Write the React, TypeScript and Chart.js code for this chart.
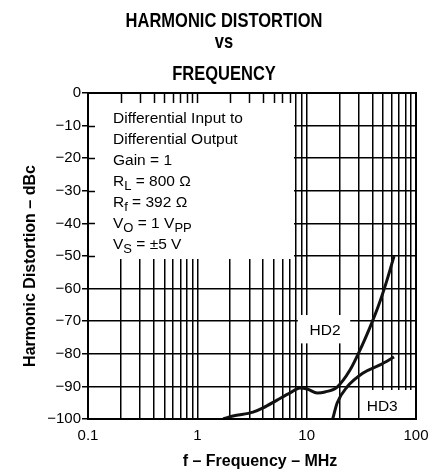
import React, { useEffect, useRef } from 'react';
import { Chart, registerables } from 'chart.js';
Chart.register(...registerables);

const TITLE_LINES = ['HARMONIC DISTORTION', 'vs', 'FREQUENCY'];
const X_TITLE = 'f – Frequency – MHz';
const Y_TITLE = 'Harmonic Distortion – dBc';
const X_MAJOR_TICKS = [0.1, 1, 10, 100];
const X_GRID_VALUES = [
  0.1, 0.2, 0.3, 0.4, 0.5, 0.6, 0.7, 0.8, 0.9,
  1, 2, 3, 4, 5, 6, 7, 8, 9,
  10, 20, 30, 40, 50, 60, 70, 80, 90, 100,
];
const Y_TICK_VALUES = [-100, -90, -80, -70, -60, -50, -40, -30, -20, -10, 0];

const HD2_FREQ = [1.72, 2.12, 3.23, 3.99, 5.36, 7.05, 8.7, 10.1, 12.5, 14.7, 19, 24.9, 30.8, 38, 45, 54.3, 63];
const HD2_DBC = [-100, -99.1, -97.9, -96.6, -94.2, -92.0, -90.5, -90.8, -92, -91.7, -90.2, -85, -78.8, -71.8, -65.6, -57.4, -50];
const HD3_FREQ = [17.3, 19, 23.4, 32.8, 46.9, 63];
const HD3_DBC = [-100, -95.1, -90.2, -85.9, -83.4, -81];

const SERIES_LABELS = ['HD2', 'HD3'];

// [text, isSubscript]
const NOTE_LINES: Array<Array<[string, boolean]>> = [
  [['Differential Input to', false]],
  [['Differential Output', false]],
  [['Gain = 1', false]],
  [['R', false], ['L', true], [' = 800 Ω', false]],
  [['R', false], ['f', true], [' = 392 Ω', false]],
  [['V', false], ['O', true], [' = 1 V', false], ['PP', true]],
  [['V', false], ['S', true], [' = ±5 V', false]],
];

const FONT = '"Liberation Sans", Arial, Helvetica, sans-serif';
const GRID_W = 1.5;

const decor = {
  id: 'decor',
  beforeDatasetsDraw(chart: any) {
    const { ctx, chartArea: ca, scales } = chart;
    const x = scales.x;
    const y = scales.y;
    ctx.save();
    const L = Math.round(ca.left);
    const T = Math.round(ca.top);
    // note box
    const bx0 = L + 1;
    const bx1 = Math.round(x.getPixelForValue(7.7));
    const by0 = T + 1;
    const by1 = Math.round(y.getPixelForValue(-50.9));
    ctx.fillStyle = '#fff';
    ctx.fillRect(bx0, by0, bx1 - bx0, by1 - by0);
    ctx.strokeStyle = '#000';
    ctx.lineWidth = GRID_W;
    ctx.setLineDash([]);
    // stubs on top edge
    for (const v of X_GRID_VALUES) {
      const px = Math.round(x.getPixelForValue(v)) + 0.5;
      if (px > bx0 + 2 && px < bx1) {
        ctx.beginPath();
        ctx.moveTo(px, T);
        ctx.lineTo(px, T + 10);
        ctx.stroke();
      }
    }
    // stubs on left edge
    for (const v of Y_TICK_VALUES) {
      const py = Math.round(y.getPixelForValue(v)) + 0.5;
      if (py > by0 + 2 && py < by1) {
        ctx.beginPath();
        ctx.moveTo(L, py);
        ctx.lineTo(L + 7, py);
        ctx.stroke();
      }
    }
    // note text
    ctx.fillStyle = '#000';
    ctx.textBaseline = 'alphabetic';
    ctx.textAlign = 'left';
    const tx = x.getPixelForValue(0.1) + 25;
    NOTE_LINES.forEach((segs, i) => {
      let cx = tx;
      const base = ca.top + 30 + i * 21;
      for (const [t, sub] of segs) {
        ctx.font = (sub ? '13px ' : '15.5px ') + FONT;
        ctx.fillText(t, cx, base + (sub ? 4 : 0));
        cx += ctx.measureText(t).width;
      }
    });
    // label boxes
    ctx.fillStyle = '#fff';
    const h2x0 = x.getPixelForValue(8.3);
    const h2x1 = x.getPixelForValue(25);
    const h2y0 = y.getPixelForValue(-68.1);
    const h2y1 = y.getPixelForValue(-76.8);
    ctx.fillRect(h2x0, h2y0, h2x1 - h2x0, h2y1 - h2y0);
    const h3x0 = x.getPixelForValue(31);
    const h3y0 = y.getPixelForValue(-91.1);
    ctx.fillRect(h3x0, h3y0, ca.right - h3x0 - 1, ca.bottom - h3y0 - 1);
    ctx.fillStyle = '#000';
    ctx.font = '15.5px ' + FONT;
    ctx.textAlign = 'center';
    ctx.fillText(SERIES_LABELS[0], (h2x0 + h2x1) / 2 + 1, y.getPixelForValue(-74.2));
    ctx.fillText(SERIES_LABELS[1], (h3x0 + ca.right) / 2 - 6, y.getPixelForValue(-97.4));
    ctx.restore();
  },
  afterDraw(chart: any) {
    const { ctx, chartArea: ca } = chart;
    ctx.save();
    ctx.fillStyle = '#000';
    const L = Math.round(ca.left);
    const R = Math.round(ca.right);
    const T = Math.round(ca.top);
    const B = Math.round(ca.bottom);
    // frame (2px)
    ctx.fillRect(L - 1, T - 1, R - L + 2, 2);
    ctx.fillRect(L - 1, B - 1, R - L + 2, 2);
    ctx.fillRect(L - 1, T - 1, 2, B - T + 2);
    ctx.fillRect(R - 1, T - 1, 2, B - T + 2);
    ctx.textAlign = 'center';
    ctx.textBaseline = 'alphabetic';
    // main title
    ctx.font = 'bold 16.5px ' + FONT;
    const baselines = [27, 48, 80];
    TITLE_LINES.forEach((t, i) => {
      ctx.save();
      ctx.translate(224, baselines[i]);
      ctx.scale(1, 1.25);
      ctx.fillText(t, 0, 0);
      ctx.restore();
    });
    // x title
    ctx.font = 'bold 16px ' + FONT;
    ctx.fillText(X_TITLE, 260, 466);
    // y title
    ctx.save();
    ctx.translate(35, 266);
    ctx.rotate(-Math.PI / 2);
    ctx.fillText(Y_TITLE, 0, 0);
    ctx.restore();
    ctx.restore();
  },
};

export default function App() {
  const ref = useRef<HTMLCanvasElement>(null);
  useEffect(() => {
    document.body.style.margin = '0';
    const canvas = ref.current!;
    const chart = new Chart(canvas, {
      type: 'line',
      data: {
        datasets: [
          {
            label: SERIES_LABELS[0],
            data: HD2_FREQ.map((f, i) => ({ x: f, y: HD2_DBC[i] })),
            borderColor: '#111',
            borderWidth: 3,
            pointRadius: 0,
            cubicInterpolationMode: 'monotone',
            fill: false,
          },
          {
            label: SERIES_LABELS[1],
            data: HD3_FREQ.map((f, i) => ({ x: f, y: HD3_DBC[i] })),
            borderColor: '#111',
            borderWidth: 3,
            pointRadius: 0,
            cubicInterpolationMode: 'monotone',
            fill: false,
          },
        ],
      },
      options: {
        animation: false,
        responsive: true,
        maintainAspectRatio: false,
        layout: { padding: { top: 93, right: 32, left: 0, bottom: 0 } },
        plugins: { legend: { display: false }, tooltip: { enabled: false }, title: { display: false } },
        scales: {
          x: {
            type: 'logarithmic',
            min: 0.1,
            max: 100,
            afterBuildTicks: (s: any) => {
              s.ticks = X_GRID_VALUES.map((v) => ({ value: v }));
            },
            afterFit: (s: any) => {
              s.height = 51;
            },
            ticks: {
              autoSkip: false,
              maxRotation: 0,
              padding: 8,
              color: '#000',
              font: { family: FONT, size: 15 },
              callback: (v: any) => (X_MAJOR_TICKS.includes(Number(v)) ? String(v) : ''),
            },
            grid: { color: '#000', lineWidth: GRID_W, drawTicks: false },
            border: { display: false },
          },
          y: {
            type: 'linear',
            min: Y_TICK_VALUES[0],
            max: Y_TICK_VALUES[Y_TICK_VALUES.length - 1],
            afterBuildTicks: (s: any) => {
              s.ticks = Y_TICK_VALUES.map((v) => ({ value: v }));
            },
            afterFit: (s: any) => {
              s.width = 88;
            },
            ticks: {
              padding: 1,
              color: '#000',
              font: { family: FONT, size: 15 },
              callback: (v: any) => (Number(v) === 0 ? '0' : '−' + Math.abs(Number(v))),
            },
            grid: { color: '#000', lineWidth: GRID_W, drawOnChartArea: true, drawTicks: true, tickLength: 6, tickColor: '#000' },
            border: { display: false },
          },
        },
      },
      plugins: [decor],
    } as any);
    return () => chart.destroy();
  }, []);
  return (
    <div style={{ width: 448, height: 470, position: 'relative' }}>
      <canvas ref={ref} />
    </div>
  );
}
